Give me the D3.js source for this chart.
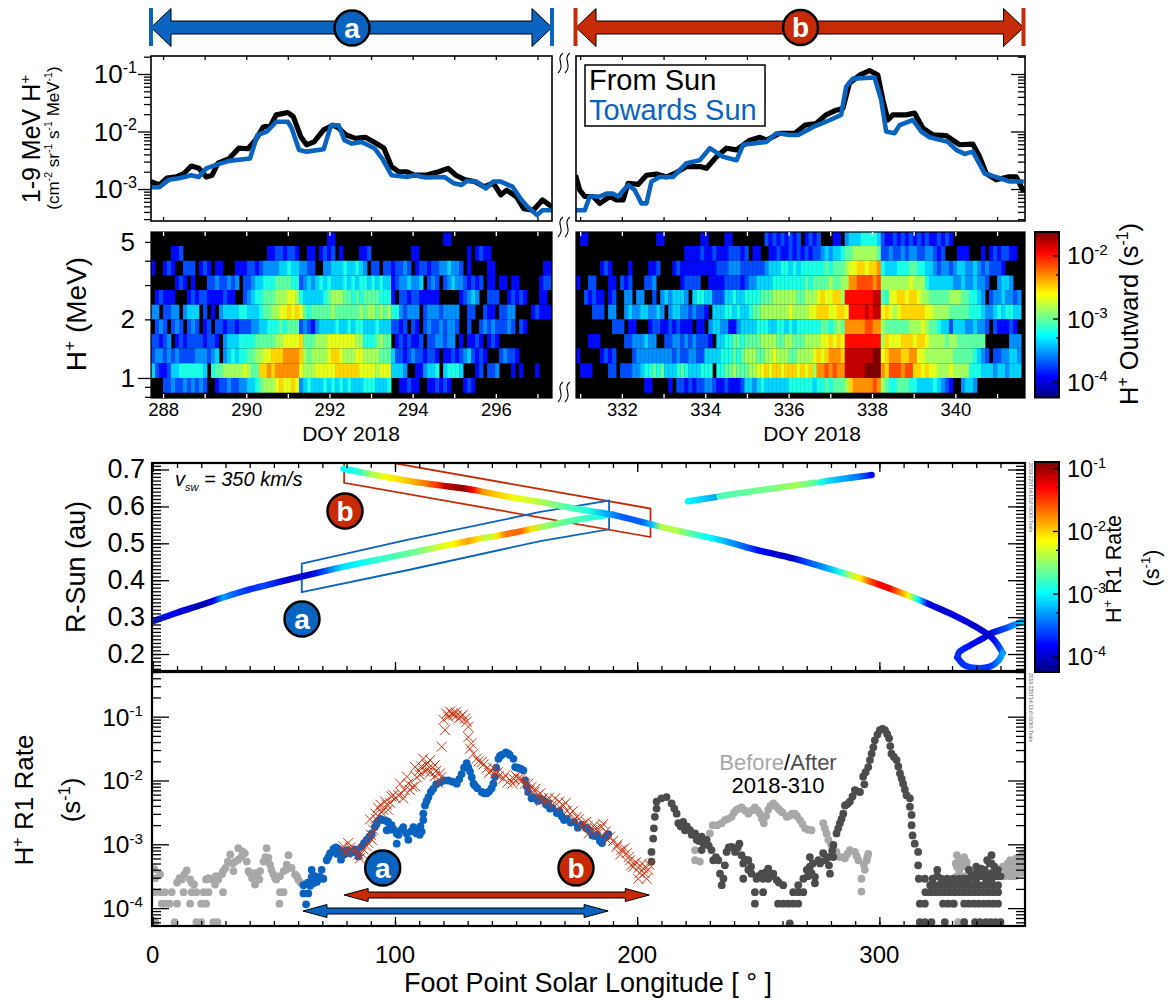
<!DOCTYPE html>
<html>
<head>
<meta charset="utf-8">
<script src="https://cdn.jsdelivr.net/npm/d3@7"></script>
<style>
body { margin: 0; background: #fff; }
text { font-family: "Liberation Sans", Arial, sans-serif; fill: #000; }
</style>
</head>
<body>
<div id="chart"></div>
<script>
// top panels: [day of year, log10 flux]
const fromSunA = [[287.71,-2.87],[287.91,-2.93],[288.09,-2.81],[288.32,-2.79],[288.5,-2.73],[288.68,-2.6],[288.86,-2.64],[289.04,-2.79],[289.18,-2.76],[289.32,-2.55],[289.59,-2.47],[289.82,-2.29],[290.04,-2.3],[290.22,-2.15],[290.41,-1.92],[290.59,-1.89],[290.72,-1.71],[291,-1.67],[291.13,-1.74],[291.31,-2.09],[291.45,-2.23],[291.63,-2.18],[291.86,-1.97],[292.09,-1.89],[292.22,-1.94],[292.4,-2.06],[292.63,-2.12],[292.86,-2.1],[293.13,-2.21],[293.31,-2.29],[293.49,-2.61],[293.67,-2.7],[293.86,-2.7],[294.04,-2.76],[294.31,-2.76],[294.63,-2.7],[294.85,-2.64],[295.04,-2.76],[295.26,-2.84],[295.49,-2.87],[295.72,-2.96],[295.94,-2.9],[296.12,-3.1],[296.26,-3.02],[296.49,-3.13],[296.67,-3.34],[296.9,-3.37],[297.12,-3.19],[297.35,-3.31]];
const towardsSunA = [[287.71,-2.97],[287.91,-2.97],[288.14,-2.84],[288.41,-2.81],[288.68,-2.76],[288.86,-2.79],[289.04,-2.64],[289.27,-2.58],[289.59,-2.51],[290.09,-2.47],[290.27,-2.06],[290.5,-2],[290.72,-1.83],[291,-1.83],[291.09,-1.94],[291.27,-2.32],[291.45,-2.35],[291.86,-2.31],[292.04,-1.89],[292.22,-1.89],[292.36,-2.15],[292.54,-2.21],[292.77,-2.18],[293.08,-2.29],[293.27,-2.47],[293.49,-2.76],[293.86,-2.79],[294.04,-2.76],[294.31,-2.8],[294.76,-2.79],[294.99,-2.9],[295.17,-2.93],[295.31,-2.86],[295.53,-2.87],[295.76,-2.99],[295.94,-2.87],[296.12,-2.87],[296.4,-2.96],[296.62,-3.19],[296.76,-3.31],[296.99,-3.45],[297.12,-3.37],[297.35,-3.37]];
const fromSunB = [[330.89,-2.76],[330.99,-3.02],[331.11,-3.13],[331.31,-3.13],[331.47,-3.25],[331.71,-3.13],[331.87,-3.19],[332.03,-3.19],[332.15,-2.9],[332.39,-2.92],[332.59,-2.76],[332.83,-2.74],[333.07,-2.79],[333.27,-2.73],[333.55,-2.61],[333.87,-2.61],[334.03,-2.64],[334.27,-2.44],[334.51,-2.29],[334.75,-2.32],[335.07,-2.15],[335.31,-2.1],[335.47,-2.15],[335.79,-2.03],[336.15,-2.03],[336.39,-1.89],[336.66,-1.86],[336.9,-1.71],[337.14,-1.63],[337.3,-1.6],[337.46,-1.16],[337.7,-1.02],[337.94,-0.94],[338.14,-1.02],[338.26,-1.45],[338.38,-1.8],[338.5,-1.71],[338.82,-1.71],[339.02,-1.68],[339.22,-1.94],[339.46,-2.06],[339.78,-2.07],[340.1,-2.23],[340.42,-2.22],[340.58,-2.44],[340.74,-2.73],[340.98,-2.84],[341.26,-2.79],[341.46,-2.79],[341.64,-3.05]];
const towardsSunB = [[330.89,-3.37],[331.11,-3.37],[331.23,-3.13],[331.47,-3.13],[331.63,-3.08],[331.79,-3.08],[331.91,-3.13],[332.15,-2.93],[332.31,-3.02],[332.47,-3.25],[332.59,-3.25],[332.71,-2.87],[332.91,-2.79],[333.23,-2.79],[333.55,-2.55],[333.87,-2.5],[334.11,-2.29],[334.43,-2.44],[334.75,-2.5],[334.91,-2.23],[335.47,-2.18],[335.71,-2.03],[336.03,-2.06],[336.23,-2.06],[336.59,-1.92],[336.9,-1.83],[337.26,-1.71],[337.38,-1.22],[337.54,-1.08],[338.06,-1.06],[338.22,-1.45],[338.34,-2],[338.54,-2.03],[338.66,-1.89],[338.98,-1.8],[339.18,-2],[339.38,-2.1],[339.82,-2.18],[340.02,-2.32],[340.22,-2.39],[340.42,-2.35],[340.7,-2.73],[341.06,-2.81],[341.3,-2.87],[341.64,-2.87]];

// heat maps: one string per energy row, top row first. '.' is no counts, hex digit is a rate level
const heatEdges = [5.66,4.76,4.0,3.36,2.83,2.38,2.0,1.68,1.42,1.19,1.0,0.84];
const heatStartA = 287.71, heatStartB = 330.9, heatStep = 0.0962;
const heatA = [
".........."+".........."+".........."+".........."+"....22...."+".........."+".........."+"...22....."+".........."+"..........",
".....223.."+".........."+".........2"+"2332332..2"+"2.2323.2.."+"..223....."+".....22..."+".........2"+".2322....."+"..........",
"2..232..33"+"3.232.22.."+".222332344"+"4455655443"+"3..4455565"+"5654.33.33"+"23343.2332"+"33445443.2"+"....22...."+"........22",
"......232."+"2...334334"+"34.3345566"+"6777766345"+"4565655565"+"6566565655"+"23445445.3"+"43.3454432"+"323.22.22."+"22.....233",
".23222...2"+"3233222232"+"2..3456677"+"7888998655"+"5556788877"+"6767777666"+"2.33233222"+"22.....234"+"54..333..2"+"3232...22.",
"44.3344.45"+"55.3.2.455"+"5566555677"+"8899a9a976"+"7777787777"+"7787887878"+"6643444.34"+"4434444..3"+"3..322.334"+"4....23222",
".343.343.3"+"43.23.3323"+"3233344556"+"6676777343"+"2455556556"+"5665556555"+"3323.32.34"+"3343443..3"+"..34343334"+"3.32......",
"33234.2323"+"3332332.45"+"5566667777"+"7889999a77"+"7888999999"+"9886667877"+".2323223.3"+"344344.2.2"+"232.232..."+"..........",
"3443434333"+"3444345.45"+"6566778899"+"aaabbbba87"+"88889aa988"+"8998888777"+"5332343323"+"32.2232345"+"3232...343"+"32........",
"5322355666"+"6665.67788"+"8889877aab"+"abbbbbb988"+"899999aaaa"+"aa99998999"+"5554..2245"+"56.56665.."+".23.334..."+"2.2...2...",
"...3343343"+"4343..2334"+"3344556788"+"89a99a9456"+"5556565656"+"5556665556"+"..22322..2"+"23232...23"+"2........."+".........."
];
const heatB = [
".22......."+".........."+"22........"+".22....22."+".......323"+"232323.232"+"3...22.455"+"5666653223"+"2323232322"+"3232......"+".........."+"..",
".........."+".........."+".......222"+"2322322233"+"323.22..22"+"3223232323"+"3454556778"+"8888873343"+"3434433443"+"23...222.."+".2.2323322"+"..",
"......232."+"...2....22"+"3...232222"+"2222233344"+"4333333455"+"5665656666"+"6676777899"+"aa9aab6555"+"6667766554"+"3443455445"+"4343332..."+"..",
"2..33...22"+".323...334"+"......2333"+"3..2222333"+"3234455556"+"6666666767"+"77787788bb"+"ccccbc8888"+"8889888655"+"5555445445"+"443..4554."+"..",
"..32322.23"+"..44.44..3"+".4545554.5"+"6655333556"+"5566667778"+"8888877888"+"9a99aa8ddd"+"ddddee7699"+"aa9aa98877"+"7778887766"+"54.3445443"+"4.",
"....333.44"+"..45445544"+"54.4554434"+"332.555665"+"6556778888"+"8889888899"+"aaa99aa9dd"+"ddedee9a98"+"9aaaaaa998"+"8887777766"+"6544565665"+"5.",
".........3"+"33.22...23"+"322323222."+"22.4554422"+"4555566655"+"6656566666"+"6776787bbb"+"bbccbb8777"+"7778889877"+"6553555445"+"443.322232"+"..",
"...222...."+"..33444544"+"..33443434"+"3332.55667"+"7677778888"+"7788777888"+"899a9a9ddd"+"dddddd8a99"+"9aaa9aa988"+"8878877777"+"77......44"+"4.",
"2.....2323"+"....344444"+"4444343344"+"3355556667"+"6788877889"+"8887788889"+"a9abbbaeee"+"eeeeff9abb"+"baabb99888"+"8888777776"+"543.334455"+"4.",
".222....33"+".333445667"+"6755567655"+"5666.66778"+"7778899a9a"+"a9aaa9a9a8"+"bbcbcbbeee"+"eeffffbacc"+"cbccaa9a99"+"8889888866"+"6555455455"+"5.",
".........."+".......22."+"...2.33232"+"3344322322"+"2355456555"+"5556666665"+"66767778ab"+"bbbbcb8766"+"7776655556"+"5432..4554"+".........."+".."
];

// trajectory: [longitude, solar distance]
const orbitA = [[0,.289],[10,.312],[19.5,.332],[29,.353],[40,.375],[54,.398],[63.5,.413],[74.5,.43],[85.6,.446],[102,.468],[118.6,.491],[132.3,.509],[146,.525],[160,.544],[173.6,.562],[190,.579]];
const orbitB = [[78.7,.702],[91,.686],[104.8,.67],[118.6,.657],[132.3,.645],[146,.627],[160,.612],[173.6,.595],[190,.577],[205.4,.552],[215.4,.536],[226.7,.52],[236.6,.505],[248,.484],[260.7,.465],[272,.445],[283.4,.423],[293.3,.403],[304.6,.377],[314.5,.352],[321.6,.332],[331.5,.303],[340,.273],[347,.241],[350.9,.203]];
const orbitLoopLow = [[350.9,.203],[349.2,.182],[345.7,.166],[340,.162],[335,.17],[332.2,.191]];
const orbitLoopUp = [[332.2,.191],[332.9,.2045],[337.2,.2227],[342.8,.2427],[345.7,.255],[353.5,.273],[360,.291]];
const orbitTop1 = [[221,.614],[232.4,.625]];
const orbitTop2 = [[234,.628],[254,.647],[273.4,.664]];
const orbitTop3 = [[275.6,.666],[286,.676],[296.8,.685]];
// rate along the trajectory: [longitude, log10 rate]
const rateA = [[0,-3.7],[8,-3.85],[14,-4],[20,-4.1],[25,-3.9],[29,-3.3],[33,-3.5],[40,-3.7],[46,-3.6],[54,-3.95],[60,-4],[66,-3.95],[72,-3.5],[78,-3.1],[85,-3],[92,-2.85],[100,-2.75],[110,-2.6],[118,-2.3],[124,-2.15],[130,-1.85],[134,-2.05],[138,-2.4],[142,-2.1],[146,-1.7],[152,-1.65],[156,-2.05],[162,-2.5],[172,-2.7],[182,-2.85],[190,-3]];
const rateB = [[78.7,-3],[85,-2.85],[90,-2.45],[96,-2.2],[104,-2],[112,-1.75],[117,-1.5],[121,-1.1],[128,-0.95],[132,-1.3],[136,-1.8],[142,-2],[150,-2.2],[160,-2.4],[170,-2.7],[180,-2.9],[188,-3.3],[195,-3.55],[202,-3.5],[206,-3.2],[210,-2.4],[216,-2.4],[222,-2.7],[230,-3],[238,-3.3],[244,-3.5],[250,-3.8],[258,-4],[264,-4],[270,-3.6],[278,-3.3],[284,-2.9],[288,-2.4],[292,-2.1],[296,-1.6],[300,-1.3],[304,-1.3],[308,-1.7],[312,-2.2],[316,-3],[320,-3.9],[326,-4],[332,-3.9],[340,-4],[347,-3.9],[350.9,-3.5]];
const rateLoopLow = [[332.2,-3.7],[340,-3.6],[345,-3.7],[350.9,-3.3]];
const rateLoopUp = [[332.2,-3.7],[338,-3.8],[345,-4],[352,-3.6],[360,-3.1]];
const rateTop1 = [[221,-3],[232.4,-3.3]];
const rateTop2 = [[234,-2.75],[255,-2.6],[265,-2.45],[273.4,-2.7]];
const rateTop3 = [[275.6,-2.9],[282,-3.2],[290,-3.4],[294,-3.6],[296.8,-3.9]];
// selection boxes: [longitude, solar distance]
const boxA = [[61.5,.445],[105,.509],[160,.585],[188.4,.616],[188.4,.538],[160,.506],[105,.427],[61.5,.368]];
const boxB = [[79,.741],[205.5,.594],[205.5,.517],[79,.664]];

// bottom panel: [longitude, log10 rate]
const beforePts = [[0.6,-3.39],[1,-3.53],[3,-3.47],[0.6,-3.75],[3,-3.75],[5,-3.75],[7.8,-3.75],[12.7,-3.75],[16,-3.75],[18,-3.75],[21,-3.75],[23,-3.75],[29,-3.75],[52.5,-3.75],[54,-3.75],[3.7,-3.93],[5,-3.93],[7,-3.93],[10,-3.93],[15.4,-3.93],[20,-3.93],[22,-3.93],[52.3,-3.93],[1,-4.22],[9,-4.22],[18,-4.22],[20,-4.22],[25,-4.22],[26.7,-4.22],[10,-3.6],[11,-3.53],[13,-3.47],[14,-3.41],[15.4,-3.55],[17,-3.63],[23,-3.53],[24.4,-3.55],[25.7,-3.63],[27,-3.55],[28.5,-3.47],[30,-3.37],[31,-3.27],[32,-3.16],[33.3,-3.42],[34,-3.27],[35.3,-3.24],[35.3,-3.06],[37,-3.11],[38,-3.14],[38.8,-3.27],[39.5,-3.42],[41,-3.53],[42.2,-3.63],[43,-3.47],[44.3,-3.42],[45.7,-3.27],[47,-3.06],[47.7,-3.21],[48.4,-3.32],[49.8,-3.47],[51,-3.55],[54,-3.42],[56,-3.17],[55.3,-3.32],[57.3,-3.37],[58.7,-3.47],[60,-3.55],
[12,-3.55],[16,-3.6],[22,-3.55],[26,-3.5],[29,-3.42],[33,-3.3],[36.5,-3.2],[40,-3.45],[42,-3.45],[44,-3.55],[46.5,-3.2],[49,-3.4],[50.5,-3.53],[52.5,-3.5],[55,-3.4],[59.5,-3.5],[61,-3.6],
[223.9,-3.25],[225.9,-3.27],[223.9,-3.09],[228,-2.98],[230,-2.83],[231.2,-2.7],[234.9,-2.67],[236.2,-2.62],[239,-2.57],[241,-2.46],[243.1,-2.42],[245.9,-2.52],[248.6,-2.42],[250.7,-2.52],[252.3,-2.67],[254.1,-2.46],[256.2,-2.36],[258.2,-2.44],[260,-2.5],[261.7,-2.57],[263.5,-2.54],[265.1,-2.52],[267.2,-2.62],[269.3,-2.75],[272,-2.78],[276.8,-2.67],[278.2,-2.83],[278.9,-2.93],[282.3,-3.12],[283.7,-3.2],[285.8,-3.22],[287.8,-3.09],[289.9,-3.12],[291.3,-3.25],[295.4,-3.15],[294.8,-3.25],[294,-3.4],[292.6,-3.54],[292.6,-3.74],
[233,-2.7],[237.5,-2.6],[240,-2.5],[242,-2.44],[244.5,-2.47],[247.3,-2.47],[249.7,-2.47],[251.5,-2.6],[253.2,-2.56],[255,-2.4],[257.2,-2.4],[259,-2.47],[262.5,-2.56],[264,-2.52],[266,-2.56],[268.2,-2.68],[270.5,-2.77],[277.5,-2.75],[280,-3],[281,-3.06],[284.8,-3.2],[286.8,-3.15],[290.6,-3.18],[295,-3.2],[293.6,-3.32],
[332,-3.17],[333,-3.25],[335,-3.25],[332,-3.35],[334,-3.35],[336,-3.35],[332,-3.5],[334,-3.5],[336,-3.5],[338,-3.54],[331,-3.93],[332.5,-4.22],[335,-4.22],[333,-3.4],[335,-3.2],[336,-3.28],[337,-3.45],[331.5,-3.3],
[351.8,-3.5],[352,-3.38],[353,-3.3],[354,-3.25],[355,-3.4],[356,-3.5],[357,-3.3],[358,-3.25],[359,-3.14],[359,-3.35],[356.5,-3.45],[351,-3.35],[352.8,-3.45],[354,-3.5],[355.3,-3.28],[356.5,-3.22],[357.5,-3.4],[358.5,-3.45],[359.5,-3.25],[353.5,-3.4]];
const afterPts = [[205.9,-3.27],[205.9,-3.12],[206.6,-2.91],[206.9,-2.75],[207.3,-2.57],[208,-2.44],[208,-2.33],[210,-2.28],[212.1,-2.26],[214.2,-2.36],[215.3,-2.44],[216.3,-2.52],[217,-2.67],[219,-2.65],[219.7,-2.78],[221.8,-2.78],[223.9,-2.83],[224.6,-2.93],[226.6,-2.88],[226.6,-3.09],[228.7,-2.93],[230.7,-3.09],[231.4,-3.25],[233.5,-3.25],[234.2,-3.46],[235.6,-3.54],[234.9,-3.64],[236.2,-3.33],[236.9,-3.12],[239,-3.04],[240.4,-3.12],[242.2,-2.99],[243.1,-3.17],[243.8,-3.3],[245.9,-3.25],[245.9,-3.4],[243.8,-3.54],[247.2,-3.46],[249.3,-3.54],[251.4,-3.46],[254.1,-3.38],[254.1,-3.54],[256.2,-3.46],[257.6,-3.56],[252,-3.54],[260.3,-3.64],[248.6,-3.75],[252,-3.75],[248.6,-3.93],[264.4,-3.75],[266.5,-3.75],[268.6,-3.75],[258.2,-3.93],[260.3,-3.93],[262.4,-3.93],[264.4,-3.93],[266.5,-3.93],[263,-4.24],[266.5,-3.64],[268.6,-3.54],[270,-3.4],[271.3,-3.2],[271.3,-3.35],[273.4,-3.51],[273.4,-3.61],[272.5,-3.3],[274.8,-3.25],[276.8,-3.14],[278.9,-3.2],[279.6,-3.46],[279.2,-3.33],[281,-3.2],[281,-3.01],[282.3,-2.83],[283,-2.75],[283.7,-2.67],[284.4,-2.6],[285.1,-2.52],[285.8,-2.39],[287.8,-2.33],[288.9,-2.25],[289.9,-2.15],[292,-2.18],[293.3,-1.94],[294.3,-1.87],[295.4,-1.79],[296.1,-1.68],[296.8,-1.58],[297.5,-1.48],[298.1,-1.37],[299.2,-1.28],[300.2,-1.21],[301.3,-1.19],[302.3,-1.21],[303.2,-1.27],[304,-1.34],[304.5,-1.46],[305,-1.58],[306,-1.63],[307.1,-1.68],[307.8,-1.78],[308.5,-1.89],[309.2,-1.97],[309.8,-2.05],[310.5,-2.14],[311.2,-2.23],[312.6,-2.28],[312.6,-2.41],[313.3,-2.54],[313.3,-2.7],[313.7,-2.86],[314.6,-2.99],[316,-3.12],[316,-3.33],[316.3,-3.54],[318.8,-3.54],[323.9,-3.4],[323.9,-3.5],[330.5,-3.54],[340,-3.35],[340,-3.45],[340,-3.54],[343.5,-3.4],[343.5,-3.5],[346.3,-3.17],[346.3,-3.3],[346.3,-3.45],[346.3,-3.55],[349,-3.4],[349,-3.5],[337,-3.54],[342,-3.5],[345,-3.5],[348,-3.5],
[218,-2.72],[220.5,-2.72],[222.5,-2.85],[225.5,-2.95],[227.5,-3],[229.5,-3.02],[232.5,-3.2],[237.8,-3.05],[241.5,-3.05],[244.5,-3.24],[247,-3.35],[250,-3.5],[253,-3.44],[255,-3.5],[258.5,-3.6],[270.5,-3.5],[272,-3.45],[275.5,-3.3],[277.8,-3.25],[280.5,-3.1],[286.8,-2.37],[290.9,-2.17],[293.8,-2.06],
[337,-3.4],[338,-3.5],[341,-3.4],[342,-3.38],[344.5,-3.25],[345.5,-3.3],[347.5,-3.35],[322,-3.54],[325.5,-3.54],[328,-3.54],[333,-3.54],[335,-3.54],[339,-3.5],[344,-3.54],[346,-3.54],[350,-3.5],
[321,-3.64],[323,-3.64],[325,-3.64],[327,-3.64],[329,-3.64],[331,-3.64],[333,-3.64],[335,-3.64],[337,-3.64],[339,-3.64],[341,-3.64],[343,-3.64],[345,-3.64],[347,-3.64],[349,-3.64],
[319,-3.75],[321,-3.75],[323,-3.75],[325,-3.75],[327,-3.75],[329,-3.75],[331,-3.75],[333,-3.75],[335,-3.75],[337,-3.75],[339,-3.75],[341,-3.75],[343,-3.75],[345,-3.75],[347,-3.75],[349,-3.75],
[316.7,-3.93],[318.8,-3.93],[326.3,-3.93],[328.4,-3.93],[330.5,-3.93],[335,-3.93],[337,-3.93],[339,-3.93],[341,-3.93],[343,-3.93],[345,-3.93],[347,-3.93],[349,-3.93],
[316.7,-4.22],[318.8,-4.22],[321.5,-4.22],[327,-4.22],[335,-4.22],[339.5,-4.22],[341.5,-4.22],[344,-4.22],[346,-4.22],[348,-4.22],[350,-4.22]];
const bluePts = [[62.2,-3.64],[62.2,-3.77],[64.2,-3.77],[63.3,-3.94],[65.6,-3.4],[65.6,-3.51],[66.3,-3.61],[67.7,-3.59],[69,-3.51],[69.7,-3.4],[70.4,-3.54],[71.8,-3.25],[73.2,-3.14],[74.6,-3.07],[76.6,-3.07],[78,-3.12],[77.7,-3.24],[80,-3.09],[81.4,-3.14],[84.2,-3.12],[84.9,-3.19],[86.2,-3.04],[88.3,-2.93],[90.4,-2.83],[91.7,-2.73],[93.1,-2.63],[95.2,-2.62],[97.2,-2.65],[98.6,-2.7],[96.6,-2.78],[97.9,-2.77],[100.7,-2.83],[100.7,-2.99],[103.4,-2.73],[104.8,-2.83],[105.5,-2.93],[107.6,-2.73],[108.9,-2.83],[111,-2.8],[111.7,-2.62],[111.7,-2.52],[112.4,-2.39],[113.1,-2.32],[113.8,-2.26],[114.8,-2.18],[115.8,-2.13],[117,-2.06],[118.6,-2.03],[120.2,-2],[122,-2],[123.7,-2.02],[125.5,-2.05],[126.5,-1.98],[127.5,-1.9],[128.5,-1.8],[129.6,-1.73],[130.3,-1.8],[131,-1.86],[131.7,-1.95],[132.4,-2.05],[134,-2.12],[135.8,-2.18],[137.9,-2.2],[139.9,-2.12],[141.3,-1.94],[141.8,-1.8],[142.7,-1.66],[144,-1.6],[145.8,-1.56],[147.4,-1.6],[148.9,-1.66],[149.6,-1.79],[151.3,-1.81],[153,-1.84],[153.7,-2],[154.4,-2.09],[155,-2.18],[156.4,-2.28],[158,-2.28],[159.9,-2.28],[161.6,-2.32],[163.3,-2.36],[165,-2.43],[166.8,-2.51],[168.8,-2.56],[170.9,-2.6],[174,-2.65],[177.1,-2.69],[178.8,-2.74],[180.5,-2.79],[182.5,-2.87],[184.6,-2.95],[186.5,-2.9],[188.1,-2.84],
[64,-3.6],[65,-3.65],[67,-3.5],[68.3,-3.55],[72.5,-3.2],[75.6,-3.05],[76,-3.15],[79,-3.16],[80.7,-3.12],[82.8,-3.12],[83.5,-3.08],[87.2,-2.98],[89.4,-2.88],[92.4,-2.68],[94,-2.6],[96.2,-2.63],[98,-2.72],[99.5,-2.77],[101.5,-2.85],[102.5,-2.78],[106.5,-2.8],[109.9,-2.78],[110.5,-2.72],[110.2,-2.85],[133,-2.08],[136.8,-2.2],[138.9,-2.17],[140.6,-2.05],[143.3,-1.62],[146.8,-1.58],[150.5,-1.8],[152,-1.82],[157.2,-2.26],[159,-2.32],[162.5,-2.38],[164,-2.44],[167.8,-2.48],[169.8,-2.62],[172.5,-2.66],[175.5,-2.74],[179.5,-2.76],[181.5,-2.86],[183.5,-2.85],[185.5,-2.98],[187.3,-2.88]];
const redPts = [[78.7,-3.03],[80.7,-2.98],[80,-3.14],[82.8,-3.11],[84.9,-3.16],[86.2,-3.14],[88.3,-3.03],[90.4,-2.93],[91,-2.77],[89.7,-2.61],[93.1,-2.43],[95.2,-2.46],[97.2,-2.46],[95.9,-2.33],[99.3,-2.23],[101.4,-2.23],[103.4,-2.28],[102.1,-2.05],[104.9,-1.94],[106.2,-2.15],[108.3,-2.09],[108.3,-1.79],[110.3,-1.91],[111.7,-1.66],[112.4,-1.86],[114.4,-1.88],[114.5,-1.68],[116.5,-1.76],[116.5,-1.93],[118.6,-1.89],[117.9,-2.04],[119.3,-1.47],[120.7,-1.21],[120,-1.05],[122.7,-0.92],[123.8,-0.95],[125.5,-0.98],[127.2,-1],[128.9,-1.03],[130.3,-1.16],[130.3,-1.32],[131,-1.5],[132.4,-1.58],[133.7,-1.66],[135.8,-1.71],[137.9,-1.81],[139.6,-1.85],[141.3,-1.89],[143,-1.93],[144.7,-1.97],[147.5,-1.99],[149.2,-1.98],[150.9,-1.97],[152.3,-2.01],[153.7,-2.05],[156.4,-2.1],[157.8,-2.17],[159.2,-2.23],[161,-2.28],[162.6,-2.33],[166.1,-2.28],[167.8,-2.33],[169.5,-2.39],[172.3,-2.52],[175,-2.57],[177.8,-2.67],[179.5,-2.72],[181.2,-2.78],[183,-2.76],[185.3,-2.73],[187,-2.8],[188.8,-2.88],[191.5,-3.04],[193.5,-3.09],[195.6,-3.14],[197,-3.25],[198.4,-3.35],[200.5,-3.37],[202.5,-3.38],[204.6,-3.4],[200.4,-3.54],[203.9,-3.54],
[79.5,-3.1],[81.5,-3.05],[83.5,-3.07],[85.5,-3.22],[87,-3.08],[89,-2.98],[90,-2.85],[92,-2.6],[92,-2.52],[94,-2.38],[94.5,-2.5],[96.5,-2.38],[98,-2.35],[98.5,-2.25],[100.3,-2.28],[102.5,-2.2],[104,-2.15],[105.5,-2.05],[107.3,-2.1],[109,-1.95],[110,-1.85],[111,-1.78],[113,-1.75],[113.5,-1.82],[115.5,-1.8],[117,-1.85],[119,-1.95],[121.3,-0.95],[122,-1],[124,-0.98],[125,-0.93],[126.3,-1.03],[128,-0.97],[129.5,-1.08],[131.5,-1.42],[134.5,-1.7],[136.5,-1.75],[138.8,-1.88],[140.5,-1.8],[142.5,-1.87],[145.5,-1.92],[146.5,-2.03],[148.5,-2.05],[150,-1.93],[152,-1.97],[155,-2.05],[155.5,-2.15],[158,-2.13],[160,-2.2],[160.3,-2.32],[163.5,-2.27],[165,-2.38],[168,-2.42],[170.5,-2.35],[171,-2.48],[173.5,-2.48],[174,-2.62],[176,-2.6],[177,-2.72],[179,-2.65],[180,-2.83],[182.3,-2.7],[184,-2.82],[186,-2.68],[187.5,-2.93],[190,-2.95],[192,-3],[193,-3.16],[194.8,-3.06],[196.5,-3.2],[197.5,-3.33],[199.5,-3.28],[201,-3.45],[202,-3.3],[203,-3.45],[205,-3.32]];

// arrows under the bottom panel
const arrowA = [62, 188];
const arrowB = [79, 205];
const xLabels = [0, 100, 200, 300];
const rLabels = [0.2, 0.3, 0.4, 0.5, 0.6, 0.7];

const blue = "#0a63be", red = "#c62a06";

const svg = d3.select("#chart").append("svg").attr("width", 1176).attr("height", 1005);
const defs = svg.append("defs");

const jet = d3.scaleLinear().domain([0, .125, .375, .625, .875, 1])
    .range(["#00007f", "#0000ff", "#00ffff", "#ffff00", "#ff0000", "#7f0000"]);

// scales
const xA = d3.scaleLinear().domain([287.71, 297.35]).range([151, 552]);
const xB = d3.scaleLinear().domain([330.9, 341.67]).range([576, 1025]);
const yFlux = d3.scaleLog().domain([Math.pow(10, -3.556), Math.pow(10, -0.687)]).range([221, 56]);
const yMev = d3.scaleLog().domain([0.789, 5.62]).range([398, 232]);
const heatScale = d3.scaleLinear().domain([-4.25, -1.55]).range([0, 1]);
const xLon = d3.scaleLinear().domain([0, 360]).range([152.8, 1024.7]);
const yDist = d3.scaleLinear().domain([0.154, 0.7176]).range([671, 463]);
const yRate = d3.scaleLog().domain([Math.pow(10, -4.28), Math.pow(10, -0.3)]).range([926, 672]);
const orbitScale = d3.scaleLinear().domain([-4.25, -0.9]).range([0, 1]);
const yBar1 = d3.scaleLog().domain([Math.pow(10, -4.25), Math.pow(10, -1.63)]).range([397.5, 232]);
const yBar2 = d3.scaleLog().domain([Math.pow(10, -4.25), Math.pow(10, -0.9)]).range([672, 462]);

const pow10 = v => Math.pow(10, v);
const logMinor = d3.range(-5, 0).flatMap(e => d3.range(2, 10).map(m => m * pow10(e)));
const decades = [1e-4, 1e-3, 1e-2, 1e-1];

function clip(id, x, y, w, h) {
    defs.append("clipPath").attr("id", id).append("rect")
        .attr("x", x).attr("y", y).attr("width", w).attr("height", h);
}

function ticks(axis, x, y, values, size, color) {
    const g = svg.append("g").attr("transform", "translate(" + x + "," + y + ")")
        .call(axis.tickValues(values).tickSize(size).tickFormat(""));
    g.select(".domain").remove();
    g.selectAll("line").attr("stroke", color || "#000").attr("stroke-width", 1.3);
    g.selectAll("text").remove();
}

function frame(x, y, w, h, sw) {
    svg.append("rect").attr("x", x).attr("y", y).attr("width", w).attr("height", h)
        .attr("fill", "none").attr("stroke", "#000").attr("stroke-width", sw);
}

// text with superscript parts, parts = [[string, isSup], ...]
function rich(sel, parts, size) {
    let up = false;
    parts.forEach(p => {
        const t = sel.append("tspan").text(p[0]);
        if (p[1]) { t.attr("font-size", size * 0.62).attr("dy", -size * 0.4); up = true; }
        else { t.attr("font-size", size); if (up) { t.attr("dy", size * 0.4); up = false; } }
    });
    return sel;
}
function vertical(x, y, parts, size) {
    const t = svg.append("text").attr("text-anchor", "middle")
        .attr("transform", "translate(" + x + "," + y + ") rotate(-90)");
    rich(t, parts, size);
}
function powerLabel(x, y, exp, size, anchor) {
    const t = svg.append("text").attr("x", x).attr("y", y).attr("text-anchor", anchor);
    rich(t, [["10"], [String(exp), true]], size);
}
function badge(x, y, letter, color) {
    svg.append("circle").attr("cx", x).attr("cy", y).attr("r", 17.5)
        .attr("fill", color).attr("stroke", "#000").attr("stroke-width", 2.5);
    svg.append("text").attr("x", x).attr("y", y + 9.5).attr("text-anchor", "middle")
        .attr("font-size", 28).attr("font-weight", "bold").style("fill", "#fff").text(letter);
}
function doubleArrow(x0, x1, y, shaft, head, len, color) {
    const pts = [[x0, y], [x0 + len, y - head], [x0 + len, y - shaft], [x1 - len, y - shaft], [x1 - len, y - head],
        [x1, y], [x1 - len, y + head], [x1 - len, y + shaft], [x0 + len, y + shaft], [x0 + len, y + head]];
    svg.append("polygon").attr("points", pts.join(" ")).attr("fill", color).attr("stroke", "#000").attr("stroke-width", 1);
}
function wiggle(x, y) {
    [0, 7].forEach(dx => {
        svg.append("path").attr("fill", "none").attr("stroke", "#000").attr("stroke-width", 1.1)
            .attr("d", "M" + (x + dx + 3) + "," + (y - 10) + "C" + (x + dx - 5) + "," + (y - 4) + " " + (x + dx + 6) + "," + (y + 2) + " " + (x + dx - 2) + "," + (y + 10));
    });
}

// selection arrows on top
doubleArrow(xA(287.71), xA(297.35), 27.5, 6.5, 19, 20, blue);
doubleArrow(xB(330.9), xB(341.67) - 1.5, 27.5, 6.5, 19, 20, red);
[xA(287.71), xA(297.35)].forEach(x => svg.append("rect").attr("x", x - 2).attr("y", 8).attr("width", 4).attr("height", 38).attr("fill", blue));
[xB(330.9) - 0.5, xB(341.67) - 1.5].forEach(x => svg.append("rect").attr("x", x - 2).attr("y", 8).attr("width", 4).attr("height", 38).attr("fill", red));
badge(352, 28, "a", blue);
badge(800.5, 27.5, "b", red);

// flux panels
clip("clipA", 151, 56, 401, 165);
clip("clipB", 576, 56, 449, 165);
function fluxLine(data, x, color, width, id) {
    const line = d3.line().x(d => x(d[0])).y(d => yFlux(pow10(d[1])));
    svg.append("path").datum(data).attr("d", line).attr("fill", "none").attr("stroke", color)
        .attr("stroke-width", width).attr("stroke-linejoin", "round").attr("clip-path", "url(#" + id + ")");
}
fluxLine(fromSunA, xA, "#000", 5.2, "clipA");
fluxLine(towardsSunA, xA, blue, 4.6, "clipA");
fluxLine(fromSunB, xB, "#000", 5.2, "clipB");
fluxLine(towardsSunB, xB, blue, 4.6, "clipB");
frame(151, 56, 401, 165, 1.6);
frame(576, 56, 449, 165, 1.6);

const daysA = d3.range(288, 298), daysB = d3.range(331, 342);
ticks(d3.axisTop(xA), 0, 56, daysA, -4);
ticks(d3.axisBottom(xA), 0, 221, daysA, -4);
ticks(d3.axisTop(xB), 0, 56, daysB, -4);
ticks(d3.axisBottom(xB), 0, 221, daysB, -4);
const fluxMinor = logMinor.filter(v => v > yFlux.domain()[0] && v < yFlux.domain()[1]);
ticks(d3.axisLeft(yFlux), 151, 0, fluxMinor, 7);
ticks(d3.axisLeft(yFlux), 151, 0, [1e-3, 1e-2, 1e-1], 13);
ticks(d3.axisRight(yFlux), 1025, 0, fluxMinor, -7);
ticks(d3.axisRight(yFlux), 1025, 0, [1e-3, 1e-2, 1e-1], -14);
[-1, -2, -3].forEach(e => powerLabel(137, yFlux(pow10(e)) + 9, e, 26, "end"));
vertical(40, 139, [["1-9 MeV H"], ["+", true]], 25);
vertical(59, 138, [["(cm"], ["-2", true], [" sr"], ["-1", true], [" s"], ["-1", true], [" MeV"], ["-1", true], [")"]], 17);

svg.append("rect").attr("x", 585).attr("y", 65).attr("width", 180).attr("height", 61)
    .attr("fill", "#fff").attr("stroke", "#000").attr("stroke-width", 1.5);
svg.append("text").attr("x", 589).attr("y", 90).attr("font-size", 29).text("From Sun");
svg.append("text").attr("x", 589).attr("y", 120).attr("font-size", 29).style("fill", blue).text("Towards Sun");

// heat maps
function heatmap(rows, x, start, id) {
    svg.append("rect").attr("x", x.range()[0]).attr("y", 232).attr("width", x.range()[1] - x.range()[0]).attr("height", 166).attr("fill", "#000");
    const cells = [];
    rows.forEach((row, r) => row.split("").forEach((c, i) => {
        if (c !== ".") cells.push({ r: r, i: i, rate: -4.25 + 0.18 * parseInt(c, 16) });
    }));
    svg.append("g").attr("clip-path", "url(#" + id + ")").selectAll("rect").data(cells).enter().append("rect")
        .attr("x", d => x(start + d.i * heatStep))
        .attr("width", d => x(start + (d.i + 1) * heatStep) - x(start + d.i * heatStep) + 0.3)
        .attr("y", d => yMev(heatEdges[d.r]))
        .attr("height", d => yMev(heatEdges[d.r + 1]) - yMev(heatEdges[d.r]))
        .attr("fill", d => jet(heatScale(d.rate)));
}
clip("clipHA", 151, 232, 401, 166);
clip("clipHB", 576, 232, 449, 166);
heatmap(heatA, xA, heatStartA, "clipHA");
heatmap(heatB, xB, heatStartB, "clipHB");
frame(151, 232, 401, 166, 1.2);
frame(576, 232, 449, 166, 1.2);
ticks(d3.axisTop(xA), 0, 232, daysA, -4, "#fff");
ticks(d3.axisBottom(xA), 0, 398, daysA, -4, "#fff");
ticks(d3.axisTop(xB), 0, 232, daysB, -4, "#fff");
ticks(d3.axisBottom(xB), 0, 398, daysB, -4, "#fff");
ticks(d3.axisLeft(yMev), 151, 0, [0.8, 0.9, 2, 3, 4, 5], 6);
ticks(d3.axisLeft(yMev), 151, 0, [1], 13);
[1, 2, 5].forEach(v => svg.append("text").attr("x", 135).attr("y", yMev(v) + 9).attr("text-anchor", "end").attr("font-size", 26).text(v));
vertical(86, 314, [["H"], ["+", true], [" (MeV)"]], 28);

function dayLabels(x, values) {
    const g = svg.append("g").attr("transform", "translate(0,398)")
        .call(d3.axisBottom(x).tickValues(values).tickSize(0).tickPadding(5));
    g.select(".domain").remove();
    g.selectAll("text").attr("font-size", 18.5).attr("font-family", null).attr("fill", null);
}
dayLabels(xA, [288, 290, 292, 294, 296]);
dayLabels(xB, [332, 334, 336, 338, 340]);
svg.append("text").attr("x", 351).attr("y", 441).attr("text-anchor", "middle").attr("font-size", 21).text("DOY 2018");
svg.append("text").attr("x", 812).attr("y", 441).attr("text-anchor", "middle").attr("font-size", 21).text("DOY 2018");
[63, 227, 392].forEach(y => wiggle(560, y));

// colour bars
function colorBar(id, x, y, w, h) {
    const grad = defs.append("linearGradient").attr("id", id).attr("x1", 0).attr("x2", 0).attr("y1", 1).attr("y2", 0);
    jet.domain().forEach(t => grad.append("stop").attr("offset", t).attr("stop-color", jet(t)));
    svg.append("rect").attr("x", x).attr("y", y).attr("width", w).attr("height", h)
        .attr("fill", "url(#" + id + ")").attr("stroke", "#000").attr("stroke-width", 2);
}
colorBar("bar1", 1035, 232, 24, 165.5);
colorBar("bar2", 1035, 462, 24, 210);
ticks(d3.axisRight(yBar1), 1059, 0, [1e-4, 1e-3, 1e-2], -6);
ticks(d3.axisRight(yBar1), 1059, 0, [5e-4, 5e-3], -3);
ticks(d3.axisRight(yBar2), 1059, 0, decades, -6);
ticks(d3.axisRight(yBar2), 1059, 0, [5e-4, 5e-3, 5e-2], -3);
[-2, -3, -4].forEach(e => powerLabel(1067, yBar1(pow10(e)) + 9, e, 24.5, "start"));
[-1, -2, -3, -4].forEach(e => powerLabel(1067, yBar2(pow10(e)) + 9, e, 23.5, "start"));
vertical(1138, 314, [["H"], ["+", true], [" Outward (s"], ["-1", true], [")"]], 25.5);
vertical(1121, 569, [["H"], ["+", true], [" R1 Rate"]], 21.5);
vertical(1159, 568, [["(s"], ["-1", true], [")"]], 21.5);

// trajectory panel
clip("clipMid", 152, 463, 873, 208);
const boxLine = d3.line().x(d => xLon(d[0])).y(d => yDist(d[1]));
const orbitGroup = svg.append("g").attr("clip-path", "url(#clipMid)");
orbitGroup.append("path").attr("d", boxLine(boxB) + "Z").attr("fill", "none").attr("stroke", red).attr("stroke-width", 1.8);
orbitGroup.append("path").attr("d", boxLine(boxA) + "Z").attr("fill", "none").attr("stroke", blue).attr("stroke-width", 1.8);

function orbitPiece(id, pts, stops) {
    const lons = stops.map(d => d[0]), lo = d3.min(lons), hi = d3.max(lons);
    const grad = defs.append("linearGradient").attr("id", id).attr("gradientUnits", "userSpaceOnUse")
        .attr("x1", xLon(lo)).attr("x2", xLon(hi)).attr("y1", 0).attr("y2", 0);
    stops.forEach(s => grad.append("stop").attr("offset", (s[0] - lo) / (hi - lo))
        .attr("stop-color", jet(orbitScale(s[1]))));
    const line = d3.line().x(d => xLon(d[0])).y(d => yDist(d[1])).curve(d3.curveCatmullRom);
    orbitGroup.append("path").datum(pts).attr("d", line).attr("fill", "none")
        .attr("stroke", "url(#" + id + ")").attr("stroke-width", 6.4).attr("stroke-linecap", "round");
}
orbitPiece("orbA", orbitA, rateA);
orbitPiece("orbB", orbitB, rateB);
orbitPiece("orbLow", orbitLoopLow, rateLoopLow);
orbitPiece("orbUp", orbitLoopUp, rateLoopUp);
orbitPiece("orbT1", orbitTop1, rateTop1);
orbitPiece("orbT2", orbitTop2, rateTop2);
orbitPiece("orbT3", orbitTop3, rateTop3);
frame(152, 463, 873, 208, 2.2);
const distMinor = d3.range(16, 72).map(v => v / 100);
ticks(d3.axisLeft(yDist), 152, 0, distMinor, -9);
ticks(d3.axisLeft(yDist), 152, 0, rLabels, -17);
ticks(d3.axisRight(yDist), 1025, 0, distMinor, -9);
ticks(d3.axisRight(yDist), 1025, 0, rLabels, -17);
rLabels.forEach(v => svg.append("text").attr("x", 145).attr("y", yDist(v) + 9).attr("text-anchor", "end").attr("font-size", 27).text(v.toFixed(1)));
const lonMinor = d3.range(0, 361, 10);
const lonMajor = [0, 100, 200, 300];
[463, 671].forEach((y, i) => {
    ticks(i ? d3.axisBottom(xLon) : d3.axisTop(xLon), 0, y, lonMinor, -5);
    ticks(i ? d3.axisBottom(xLon) : d3.axisTop(xLon), 0, y, lonMajor, -9);
});
vertical(85, 567, [["R-Sun (au)"]], 27);
const vsw = svg.append("text").attr("x", 175).attr("y", 486).attr("font-size", 20).attr("font-style", "italic");
vsw.append("tspan").text("v");
vsw.append("tspan").attr("font-size", 11).attr("dy", 5).text("sw");
vsw.append("tspan").attr("dy", -5).text(" = 350 km/s");
badge(345, 511, "b", red);
badge(302, 619, "a", blue);
svg.append("text").attr("font-size", 5).style("fill", "#555").attr("transform", "translate(1029,463) rotate(90)").text("2019-225T14:13 // ISOIS-Tools");
svg.append("text").attr("font-size", 5).style("fill", "#555").attr("transform", "translate(1029,673) rotate(90)").text("2019-225T14:13 // ISOIS-Tools");

// rate panel
clip("clipLow", 152, 672, 873, 254);
const dots = svg.append("g").attr("clip-path", "url(#clipLow)");
function dotSeries(data, color) {
    dots.append("g").selectAll("circle").data(data).enter().append("circle")
        .attr("cx", d => xLon(d[0])).attr("cy", d => yRate(pow10(d[1]))).attr("r", 3.9).attr("fill", color);
}
dotSeries(beforePts, "#a8a8a8");
dotSeries(afterPts, "#4c4c4c");
dotSeries(bluePts, blue);
dots.append("g").selectAll("path").data(redPts).enter().append("path")
    .attr("transform", d => "translate(" + xLon(d[0]) + "," + yRate(pow10(d[1])) + ")")
    .attr("d", "M-5,-5L5,5M-5,5L5,-5").attr("stroke", "#cc3412").attr("stroke-width", 1).attr("fill", "none");

doubleArrow(xLon(arrowB[0]), xLon(arrowB[1]), 895, 3, 6.5, 24, red);
doubleArrow(xLon(arrowA[0]), xLon(arrowA[1]), 911, 3, 6.5, 24, blue);
badge(382.7, 868, "a", blue);
badge(576, 868, "b", red);

frame(152, 672, 873, 254, 2.2);
const rateMinor = logMinor.filter(v => v > yRate.domain()[0] && v < yRate.domain()[1]);
ticks(d3.axisLeft(yRate), 152, 0, rateMinor, -9);
ticks(d3.axisLeft(yRate), 152, 0, decades, -17);
ticks(d3.axisRight(yRate), 1025, 0, rateMinor, -9);
ticks(d3.axisRight(yRate), 1025, 0, decades, -17);
ticks(d3.axisBottom(xLon), 0, 926, lonMinor, -5);
ticks(d3.axisBottom(xLon), 0, 926, lonMajor, -9);
[-1, -2, -3, -4].forEach(e => powerLabel(143, yRate(pow10(e)) + 9, e, 24.5, "end"));
xLabels.forEach(v => svg.append("text").attr("x", xLon(v)).attr("y", 963).attr("text-anchor", "middle").attr("font-size", 24).text(v));
svg.append("text").attr("x", 588).attr("y", 992).attr("text-anchor", "middle").attr("font-size", 27).text("Foot Point Solar Longitude [ \u00B0 ]");
vertical(33, 800, [["H"], ["+", true], [" R1 Rate"]], 26);
vertical(80, 800, [["(s"], ["-1", true], [")"]], 26);

const ba = svg.append("text").attr("x", 778).attr("y", 770).attr("text-anchor", "middle").attr("font-size", 22);
ba.append("tspan").style("fill", "#a8a8a8").text("Before");
ba.append("tspan").text("/");
ba.append("tspan").style("fill", "#4c4c4c").text("After");
svg.append("text").attr("x", 778).attr("y", 793).attr("text-anchor", "middle").attr("font-size", 22).text("2018-310");
</script>
</body>
</html>
